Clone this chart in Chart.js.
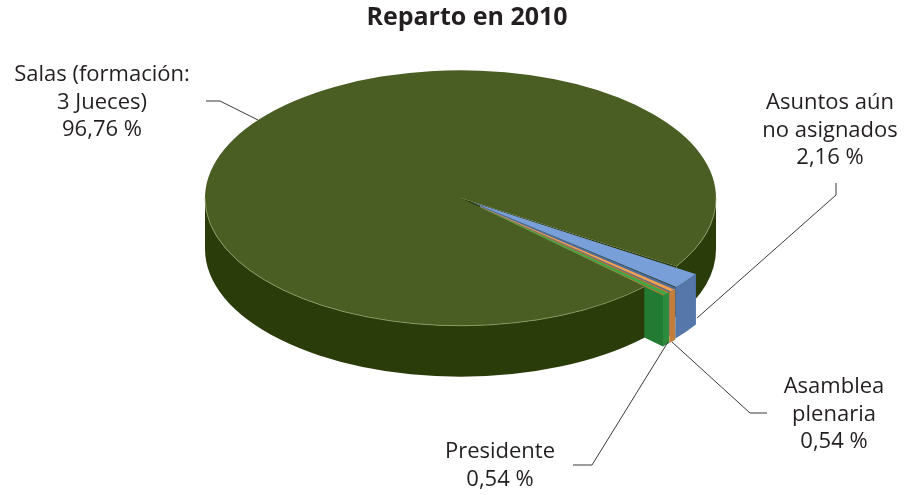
<!DOCTYPE html>
<html>
<head>
<meta charset="utf-8">
<script src="https://cdn.jsdelivr.net/npm/chart.js@4/dist/chart.umd.min.js"></script>
<style>
  html, body { margin: 0; padding: 0; background: #ffffff; }
  #wrap { width: 909px; height: 495px; }
</style>
</head>
<body>
<div id="wrap"><canvas id="c" width="909" height="495"></canvas></div>
<script>
// Distribution of cases in 2010 (percent)
const categories = ['Salas (formación: 3 Jueces)', 'Asuntos aún no asignados', 'Asamblea plenaria', 'Presidente'];
const shares = [96.76, 2.16, 0.54, 0.54];
const labelLines = [['Salas (formación:', '3 Jueces)'], ['Asuntos aún', 'no asignados'], ['Asamblea', 'plenaria'], ['Presidente']];
const titleText = 'Reparto en 2010';

// Colours: top faces, curved sides, cut faces
const topColors  = ['#4a5d23', '#789fd8', '#f5a04c', '#3aa946'];
const wallColors = ['#2b3c0b', '#5577a9', '#c17e3c', '#2a8c3c'];
const faceColors = ['#26360a', '#4d6c9c', '#b57536', '#237b33'];

// Perspective of the disc
const TILT = 0.5;
const DEPTH = 51;

// Title position and label placement (centre of first text line, leader polyline)
const titlePos = { x: 467, y: 18 };
const labelLayout = [
  { x: 102, y: 75,  leader: [[206, 101], [220, 101], [258, 120]] },
  { x: 830, y: 103, leader: [[836, 183], [836, 195], [697, 318]] },
  { x: 834, y: 387, leader: [[767, 413], [750, 413], [672, 342]] },
  { x: 500, y: 452, leader: [[573, 465], [592, 465], [668, 342]] }
];
const LINE_H = 27.5;

function pct(v) { return v.toFixed(2).replace('.', ',') + ' %'; }

// Geometry of an arc element projected onto the tilted disc
function arcGeom(el, cy) {
  const o = el.options || {};
  const off = (o.offset || 0) / 4;
  const fix = 1 - Math.sin(Math.min(Math.PI, el.circumference || 0));
  const half = (el.startAngle + el.endAngle) / 2;
  const shift = off * (1 + fix);
  const ux = el.x + Math.cos(half) * shift;
  const uy = el.y + Math.sin(half) * shift;
  return { x: ux, y: cy + (uy - cy) * TILT, r: el.outerRadius, s: el.startAngle, e: el.endAngle };
}

// Parts of [s, e] on the near (lower) half of the disc
function frontSpans(s, e) {
  const T = Math.PI * 2, out = [];
  for (let n = Math.floor(s / T) - 1; n <= Math.ceil(e / T) + 1; n++) {
    const a = Math.max(s, n * T), b = Math.min(e, n * T + Math.PI);
    if (b > a) out.push([a, b]);
  }
  return out;
}

function drawWall(ctx, g, a, b, color) {
  ctx.beginPath();
  ctx.ellipse(g.x, g.y, g.r, g.r * TILT, 0, a, b, false);
  ctx.ellipse(g.x, g.y + DEPTH, g.r, g.r * TILT, 0, b, a, true);
  ctx.closePath();
  ctx.fillStyle = color;
  ctx.fill();
}

function drawFace(ctx, g, phi, color) {
  const px = g.x + g.r * Math.cos(phi);
  const py = g.y + g.r * TILT * Math.sin(phi);
  ctx.beginPath();
  ctx.moveTo(g.x, g.y);
  ctx.lineTo(px, py);
  ctx.lineTo(px, py + DEPTH);
  ctx.lineTo(g.x, g.y + DEPTH);
  ctx.closePath();
  ctx.fillStyle = color;
  ctx.fill();
}

// Draws the thickness of the pie and flattens the top faces into an ellipse
const pieDepth = {
  id: 'pieDepth',
  beforeDatasetsDraw(chart) {
    const meta = chart.getDatasetMeta(0);
    const ctx = chart.ctx;
    const cx = meta.data[0].x, cy = meta.data[0].y;
    const geoms = meta.data.map(el => arcGeom(el, cy));
    ctx.save();
    // cut faces first, the curved sides in front of them
    geoms.forEach((g, i) => {
      if (Math.cos(g.s) < 0) drawFace(ctx, g, g.s, faceColors[i]);
      if (Math.cos(g.e) > 0) drawFace(ctx, g, g.e, faceColors[i]);
    });
    geoms.forEach((g, i) => {
      frontSpans(g.s, g.e).forEach(([a, b]) => drawWall(ctx, g, a, b, wallColors[i]));
    });
    ctx.restore();
    ctx.save();
    ctx.translate(cx, cy);
    ctx.scale(1, TILT);
    ctx.translate(-cx, -cy);
  },
  afterDatasetsDraw(chart) {
    const ctx = chart.ctx;
    ctx.restore();
    // light edge along the near rim of the large slice
    const el = chart.getDatasetMeta(0).data[0];
    const g = arcGeom(el, el.y);
    ctx.save();
    ctx.strokeStyle = 'rgba(140,160,100,0.8)';
    ctx.lineWidth = 1;
    frontSpans(g.s, g.e).forEach(([a, b]) => {
      ctx.beginPath();
      ctx.ellipse(g.x, g.y, g.r, g.r * TILT, 0, a, b, false);
      ctx.stroke();
    });
    ctx.restore();
  }
};

// Title, category labels and leader lines
const pieLabels = {
  id: 'pieLabels',
  afterDraw(chart) {
    const ctx = chart.ctx;
    ctx.save();
    ctx.fillStyle = '#231f20';
    ctx.textAlign = 'center';
    ctx.textBaseline = 'middle';
    ctx.font = 'bold 25px "Open Sans"';
    ctx.fillText(titleText, titlePos.x, titlePos.y);

    ctx.strokeStyle = '#3a3a3a';
    ctx.lineWidth = 1;
    labelLayout.forEach(l => {
      ctx.beginPath();
      l.leader.forEach(([x, y], k) => k ? ctx.lineTo(x, y) : ctx.moveTo(x, y));
      ctx.stroke();
    });
    ctx.font = '22px "Open Sans"';
    labelLayout.forEach((l, i) => {
      const lines = labelLines[i].concat([pct(shares[i])]);
      lines.forEach((t, k) => ctx.fillText(t, l.x, l.y + k * LINE_H));
    });
    ctx.restore();
  }
};

new Chart(document.getElementById('c'), {
  type: 'pie',
  data: {
    labels: categories,
    datasets: [{
      data: shares,
      backgroundColor: topColors,
      borderWidth: 0,
      clip: false,
      offset: (c) => c.dataIndex === 0 ? 0 : 52
    }]
  },
  options: {
    responsive: false,
    devicePixelRatio: 1,
    animation: false,
    events: [],
    rotation: 134,
    radius: 255.5,
    layout: { padding: { left: 12, right: 0, top: 36.8, bottom: 135.8 } },
    plugins: {
      legend: { display: false },
      tooltip: { enabled: false },
      title: { display: false }
    }
  },
  plugins: [pieDepth, pieLabels]
});
</script>
</body>
</html>
